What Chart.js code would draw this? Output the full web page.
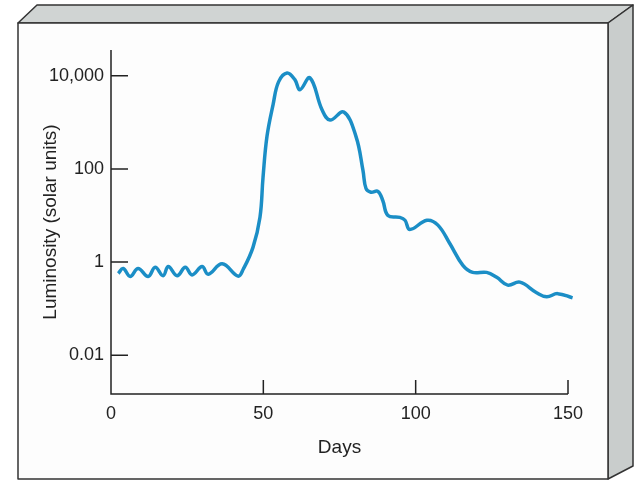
<!DOCTYPE html>
<html>
<head>
<meta charset="utf-8">
<script src="https://cdn.jsdelivr.net/npm/chart.js@4.4.0/dist/chart.umd.min.js"></script>
<style>
  html, body { margin: 0; padding: 0; background: #fff; }
  #wrap { position: relative; width: 634px; height: 480px; }
</style>
</head>
<body>
<div id="wrap"><canvas id="chart" width="634" height="480"></canvas></div>
<script>
// --- Daten ---
const days = [2.4, 4, 6.3, 8.9, 12.2, 14.5, 17.1, 18.8, 21.7, 24.4, 26.6, 29.9, 31.9, 36.5, 41.7,
              43.4, 46.6, 48.9, 49.9, 51.2, 53.2, 55.0, 57.8, 60.4, 62.0, 65.3, 69.3, 71.9, 76.4,
              80.4, 82.7, 83.7, 85.3, 87.6, 89.2, 90.9, 94.8, 96.5, 98.1, 103.7, 107.3, 111.2,
              115.5, 118.7, 123.3, 126.6, 130.2, 134.2, 139.7, 143.0, 146.6, 151.5];
const luminosity = [0.57, 0.73, 0.49, 0.73, 0.49, 0.77, 0.51, 0.8, 0.51, 0.77, 0.53, 0.8, 0.55, 0.92, 0.5,
                    0.7, 2.07, 9.2, 66, 500, 2400, 7400, 11500, 8150, 5000, 9000, 1830, 1120, 1660,
                    500, 93, 38, 31.6, 33, 21, 10, 9.1, 7.9, 5.0, 7.9, 6.2, 2.5,
                    0.85, 0.60, 0.60, 0.47, 0.32, 0.37, 0.22, 0.18, 0.21, 0.17];
const xTicks = [0, 50, 100, 150];
const yTicks = [0.01, 1, 100, 10000];
const yTickLabels = ['0.01', '1', '100', '10,000'];

const FONT = 'Liberation Sans, Arial, Helvetica, sans-serif';
const INK = '#222';

// --- Rahmen (3D-Kasten) zeichnen ---
const framePlugin = {
    id: 'frame',
    beforeDraw(chart) {
        const c = chart.ctx;
        c.save();
        c.fillStyle = '#fff';
        c.fillRect(0, 0, chart.width, chart.height);
        c.lineWidth = 1.5;
        c.strokeStyle = '#333';
        c.lineJoin = 'round';
        // Oberseite
        c.beginPath();
        c.moveTo(18, 23); c.lineTo(37, 5); c.lineTo(633, 5); c.lineTo(608, 23); c.closePath();
        c.fillStyle = '#d0d4d3';
        c.fill(); c.stroke();
        // rechte Seite
        c.beginPath();
        c.moveTo(608, 23); c.lineTo(633, 5); c.lineTo(633, 466); c.lineTo(608, 479); c.closePath();
        c.fillStyle = '#c9cdcc';
        c.fill(); c.stroke();
        // Vorderseite
        c.fillStyle = '#fdfdfd';
        c.fillRect(18, 23, 590, 456);
        c.strokeRect(18, 23, 590, 456);
        c.restore();
    }
};

// --- Achsen mit Ticks nach innen ---
const axesPlugin = {
    id: 'innerAxes',
    afterDatasetsDraw(chart) {
        const c = chart.ctx;
        const a = chart.chartArea;
        const xs = chart.scales.x, ys = chart.scales.y;
        c.save();
        c.strokeStyle = INK;
        c.lineWidth = 1.5;
        c.beginPath();
        c.moveTo(a.left, a.top);
        c.lineTo(a.left, a.bottom);
        c.lineTo(xs.getPixelForValue(150), a.bottom);
        for (const v of yTicks) {
            const y = ys.getPixelForValue(v);
            c.moveTo(a.left, y); c.lineTo(a.left + 17, y);
        }
        for (const v of xTicks) {
            if (v === 0) continue;
            const x = xs.getPixelForValue(v);
            c.moveTo(x, a.bottom); c.lineTo(x, a.bottom - 14);
        }
        c.stroke();
        c.restore();
    }
};

const points = days.map((d, i) => ({ x: d, y: luminosity[i] }));

new Chart(document.getElementById('chart'), {
    type: 'line',
    data: {
        datasets: [{
            data: points,
            borderColor: '#1b8ec6',
            borderWidth: 3.5,
            pointRadius: 0,
            tension: 0.4,
            clip: false
        }]
    },
    options: {
        responsive: false,
        animation: false,
        layout: { padding: { left: 0, top: 50, right: 66, bottom: 0 } },
        plugins: { legend: { display: false }, tooltip: { enabled: false } },
        scales: {
            x: {
                type: 'linear',
                min: 0, max: 150,
                afterBuildTicks(s) { s.ticks = xTicks.map(v => ({ value: v })); },
                afterFit(s) { s.height = 86; },
                grid: { display: false, drawTicks: false },
                border: { display: false },
                ticks: { color: INK, font: { family: FONT, size: 18 }, padding: 9, maxRotation: 0 },
                title: { display: true, text: 'Days', color: INK, font: { family: FONT, size: 19 }, padding: { top: 6, bottom: 21 } }
            },
            y: {
                type: 'logarithmic',
                min: 0.00147, max: 35700,
                afterBuildTicks(s) { s.ticks = yTicks.map(v => ({ value: v })); },
                afterFit(s) { s.width = 111; },
                grid: { display: false, drawTicks: false },
                border: { display: false },
                ticks: {
                    color: INK, font: { family: FONT, size: 18 }, padding: 7,
                    callback(v) { const i = yTicks.indexOf(v); return i >= 0 ? yTickLabels[i] : ''; }
                },
                title: { display: true, text: 'Luminosity (solar units)', color: INK, font: { family: FONT, size: 19 }, padding: { top: 39 } }
            }
        }
    },
    plugins: [framePlugin, axesPlugin]
});
</script>
</body>
</html>
